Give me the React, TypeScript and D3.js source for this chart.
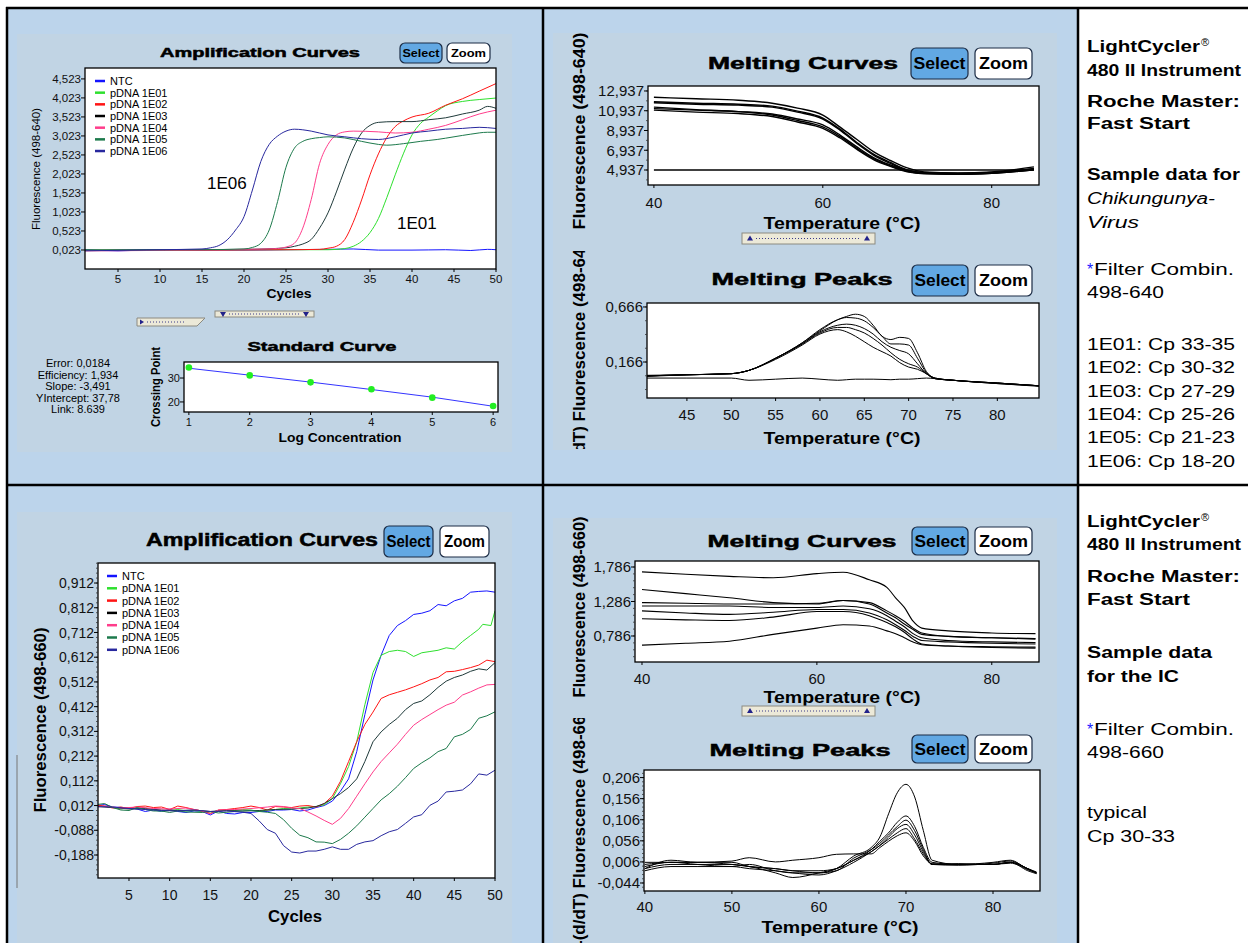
import React from 'react';
import * as d3 from 'd3';

type Pt = [number, number];

const SANS = "'Liberation Sans', Arial, Helvetica, sans-serif";
const CELL_BG = '#BCD4EB';
const PANEL_BG = '#C1D4E4';

// legend / series colours shared by both amplification plots
const AMP_LEGEND = ['NTC', 'pDNA 1E01', 'pDNA 1E02', 'pDNA 1E03', 'pDNA 1E04', 'pDNA 1E05', 'pDNA 1E06'];
const AMP_COLORS = ['#1414ff', '#2ee02e', '#ff1414', '#1f3a3a', '#ff3d8b', '#1d7a4c', '#28289e'];
const CYCLE_TICKS = [5, 10, 15, 20, 25, 30, 35, 40, 45, 50];

// ---------- 498-640 amplification ----------
const AMP640_YTICKS = [0.023, 0.523, 1.023, 1.523, 2.023, 2.523, 3.023, 3.523, 4.023, 4.523];
const AMP640_NTC: Pt[] = [[1, 0.03], [5, 0.0], [10, 0.03], [15, 0.02], [20, 0.02], [25, 0.03], [30, 0.04], [33, 0.05], [36, 0.02], [40, 0.02], [44, 0.03], [47, 0.01], [49, 0.04], [50, 0.03]];
const AMP640_E01: Pt[] = [[1, 0.02], [25, 0.03], [30, 0.03], [32, 0.06], [33, 0.12], [34, 0.25], [35, 0.48], [36, 0.85], [37, 1.4], [38, 2.0], [39, 2.57], [40, 3.05], [41, 3.35], [42, 3.52], [43, 3.68], [44, 3.82], [46, 3.93], [48, 3.98], [50, 4.02]];
const AMP640_E02: Pt[] = [[1, 0.01], [25, 0.03], [29, 0.04], [30, 0.07], [31, 0.12], [32, 0.3], [33, 0.75], [34, 1.34], [35, 2.0], [36, 2.55], [37, 2.98], [38, 3.27], [39, 3.42], [40, 3.52], [42, 3.62], [44, 3.83], [46, 4.0], [48, 4.2], [50, 4.4]];
const AMP640_E03: Pt[] = [[1, 0.02], [20, 0.04], [25, 0.08], [26, 0.12], [27, 0.18], [28, 0.3], [29, 0.6], [30, 1.0], [31, 1.55], [32, 2.15], [33, 2.7], [34, 3.1], [35, 3.3], [36, 3.38], [38, 3.4], [40, 3.4], [42, 3.45], [44, 3.5], [46, 3.6], [48, 3.7], [49, 3.8], [50, 3.75]];
const AMP640_E04: Pt[] = [[1, 0.0], [20, 0.04], [24, 0.06], [25, 0.1], [26, 0.2], [27, 0.6], [28, 1.35], [29, 2.3], [30, 2.8], [31, 3.05], [32, 3.13], [33, 3.15], [36, 3.13], [38, 3.1], [40, 3.12], [42, 3.2], [44, 3.3], [46, 3.45], [48, 3.6], [50, 3.7]];
const AMP640_E05: Pt[] = [[1, 0.02], [15, 0.03], [20, 0.05], [21, 0.09], [22, 0.2], [23, 0.55], [24, 1.3], [25, 2.2], [26, 2.7], [27, 2.88], [28, 2.95], [29, 2.98], [30, 3.0], [32, 2.97], [34, 2.88], [36, 2.8], [37, 2.78], [39, 2.82], [41, 2.88], [43, 2.93], [45, 3.0], [47, 3.07], [49, 3.12], [50, 3.12]];
const AMP640_E06: Pt[] = [[1, 0.0], [10, 0.03], [15, 0.05], [16, 0.08], [17, 0.14], [18, 0.29], [19, 0.55], [20, 0.9], [21, 1.6], [22, 2.35], [23, 2.8], [24, 3.02], [25, 3.15], [26, 3.2], [28, 3.15], [30, 3.05], [32, 3.0], [34, 2.95], [36, 2.93], [38, 3.0], [40, 3.1], [42, 3.15], [44, 3.2], [46, 3.22], [48, 3.25], [50, 3.22]];

// ---------- standard curve ----------
const STD_LOGCONC = [1, 2, 3, 4, 5, 6];
const STD_CP = [34.4, 31.1, 28.2, 25.3, 21.8, 18.3];
const STD_FIT = [34.1, 31.2, 28.3, 25.2, 22.0, 18.2];
const STD_STATS = ['Error: 0,0184', 'Efficiency: 1,934', 'Slope: -3,491', 'YIntercept: 37,78', 'Link: 8.639'];

// ---------- 498-640 melting curves ----------
const MC640_TEMPS = [40, 45, 50, 54, 57, 60, 62, 64, 66, 68, 70, 72, 76, 80, 85];
const MC640_YTICKS = [4.937, 6.937, 8.937, 10.937, 12.937];
const MC640_A = [12.3, 12.15, 12.0, 11.7, 11.2, 10.5, 9.3, 8.05, 6.8, 5.9, 5.15, 4.75, 4.65, 4.75, 5.25];
const MC640_B = [11.85, 11.7, 11.6, 11.4, 10.9, 10.2, 9.1, 7.75, 6.55, 5.7, 4.95, 4.65, 4.6, 4.7, 5.1];
const MC640_C = [11.3, 11.05, 10.85, 10.6, 10.1, 9.5, 8.5, 7.3, 6.2, 5.45, 4.85, 4.6, 4.55, 4.65, 5.0];
const MC640_D = [11.0, 10.8, 10.65, 10.35, 9.8, 9.15, 8.2, 7.05, 6.0, 5.3, 4.75, 4.55, 4.5, 4.6, 4.95];
const MC640_E = [11.75, 11.6, 11.5, 11.3, 10.8, 10.1, 9.0, 7.65, 6.45, 5.6, 4.9, 4.7, 4.6, 4.7, 5.05];
const MC640_F = [11.15, 11.0, 10.85, 10.5, 9.95, 9.3, 8.35, 7.15, 6.1, 5.35, 4.8, 4.6, 4.5, 4.6, 4.95];
const MC640_NTC = [4.937, 4.937, 4.937, 4.937, 4.937, 4.937, 4.937, 4.937, 4.937, 4.937, 4.937, 4.937, 4.937, 4.937, 4.937];

// ---------- 498-640 melting peaks ----------
const MP640_TEMPS = [40.5, 45, 50, 52, 55, 58, 60, 62, 63, 64, 65, 66, 67, 68, 69, 70, 71, 72, 73, 75, 80, 84.7];
const MP640_YTICKS = [0.166, 0.666];
const MP640_P1 = [0.04, 0.05, 0.06, 0.09, 0.2, 0.34, 0.45, 0.55, 0.58, 0.6, 0.58, 0.5, 0.4, 0.37, 0.39, 0.38, 0.25, 0.08, 0.02, 0.0, -0.025, -0.05];
const MP640_P2 = [0.04, 0.05, 0.06, 0.09, 0.2, 0.34, 0.46, 0.55, 0.57, 0.565, 0.54, 0.48, 0.4, 0.33, 0.33, 0.32, 0.2, 0.07, 0.02, 0.0, -0.025, -0.05];
const MP640_P3 = [0.045, 0.05, 0.06, 0.09, 0.2, 0.33, 0.44, 0.5, 0.51, 0.5, 0.47, 0.42, 0.35, 0.3, 0.27, 0.24, 0.15, 0.06, 0.015, 0.0, -0.03, -0.05];
const MP640_P4 = [0.04, 0.05, 0.06, 0.09, 0.2, 0.33, 0.43, 0.48, 0.48, 0.46, 0.43, 0.38, 0.32, 0.25, 0.19, 0.15, 0.12, 0.06, 0.015, 0.0, -0.025, -0.05];
const MP640_P5 = [0.035, 0.05, 0.06, 0.09, 0.19, 0.32, 0.42, 0.46, 0.44, 0.4, 0.35, 0.3, 0.26, 0.22, 0.16, 0.12, 0.1, 0.06, 0.015, 0.0, -0.03, -0.055];
const MP640_NTC = [0.02, 0.02, 0.02, 0.0, 0.01, 0.02, 0.01, 0.0, 0.005, 0.01, 0.01, 0.01, 0.008, 0.005, 0.01, 0.01, 0.015, 0.02, 0.015, 0.0, -0.025, -0.05];

// ---------- 498-660 amplification ----------
const AMP660_YTICKS = [-0.188, -0.088, 0.012, 0.112, 0.212, 0.312, 0.412, 0.512, 0.612, 0.712, 0.812, 0.912];
const AMP660_NTC: Pt[] = [[1, 0.012], [2, 0.016], [3, 0.006], [5, 0.003], [6, -0.002], [7, -0.012], [8, -0.006], [9, -0.012], [10, -0.003], [11, -0.012], [12, -0.016], [13, -0.01], [14, -0.012], [15, -0.026], [16, -0.01], [17, -0.02], [18, -0.022], [19, -0.016], [20, -0.016], [21, -0.012], [22, -0.012], [23, -0.006], [24, -0.006], [25, -0.004], [26, -0.01], [27, -0.006], [28, 0.004], [29, 0.012], [30, 0.03], [31, 0.07], [32, 0.12], [33, 0.23], [34, 0.38], [35, 0.52], [36, 0.62], [37, 0.7], [38, 0.74], [39, 0.76], [40, 0.785], [41, 0.79], [42, 0.8], [43, 0.825], [44, 0.82], [45, 0.84], [46, 0.85], [47, 0.875], [48, 0.878], [49, 0.88], [50, 0.875]];
const AMP660_E01: Pt[] = [[1, 0.01], [2, 0.008], [3, 0.005], [4, -0.002], [5, 0.004], [6, 0.0], [7, 0.002], [8, -0.006], [9, -0.01], [10, -0.008], [11, -0.004], [12, -0.01], [13, -0.008], [14, -0.012], [15, -0.014], [16, -0.01], [17, -0.006], [18, -0.008], [19, -0.004], [20, -0.006], [21, -0.012], [22, -0.006], [23, -0.004], [24, 0.0], [25, -0.002], [26, 0.002], [27, 0.006], [28, 0.008], [29, 0.015], [30, 0.04], [31, 0.1], [32, 0.17], [33, 0.27], [34, 0.42], [35, 0.55], [36, 0.62], [37, 0.635], [38, 0.64], [39, 0.635], [40, 0.615], [41, 0.63], [42, 0.635], [43, 0.64], [44, 0.65], [45, 0.645], [46, 0.675], [47, 0.7], [48, 0.725], [48.5, 0.745], [49.5, 0.74], [50, 0.8]];
const AMP660_E02: Pt[] = [[1, 0.014], [2, 0.01], [3, 0.002], [4, 0.006], [5, 0.0], [6, 0.008], [7, 0.01], [8, 0.004], [9, 0.006], [10, -0.004], [11, 0.01], [12, 0.004], [13, -0.004], [14, -0.01], [15, -0.02], [16, -0.006], [17, -0.004], [18, 0.0], [19, 0.004], [20, 0.01], [21, 0.004], [22, -0.006], [23, 0.008], [24, 0.006], [25, 0.004], [26, 0.01], [27, 0.012], [28, 0.006], [29, 0.02], [30, 0.05], [31, 0.11], [32, 0.19], [33, 0.27], [34, 0.34], [35, 0.39], [36, 0.445], [37, 0.46], [38, 0.47], [39, 0.48], [40, 0.492], [41, 0.505], [42, 0.52], [43, 0.53], [44, 0.553], [45, 0.555], [46, 0.562], [47, 0.57], [48, 0.58], [49, 0.6], [50, 0.594]];
const AMP660_E03: Pt[] = [[1, 0.008], [3, 0.004], [5, -0.002], [7, 0.0], [9, -0.006], [11, -0.008], [13, -0.006], [15, -0.012], [17, -0.008], [19, -0.01], [21, -0.008], [23, -0.004], [25, -0.002], [27, 0.002], [28, 0.008], [29, 0.02], [30, 0.04], [31, 0.06], [32, 0.085], [33, 0.12], [34, 0.19], [35, 0.27], [36, 0.31], [37, 0.34], [38, 0.365], [39, 0.4], [40, 0.425], [41, 0.435], [42, 0.46], [43, 0.49], [44, 0.515], [45, 0.53], [46, 0.54], [47, 0.555], [48, 0.565], [49, 0.56], [50, 0.59]];
const AMP660_E04: Pt[] = [[1, 0.006], [2, 0.01], [4, 0.002], [6, 0.006], [8, 0.0], [10, -0.002], [12, 0.002], [14, -0.01], [15, -0.022], [16, -0.006], [18, -0.004], [20, 0.0], [22, 0.006], [23, 0.01], [24, 0.008], [25, 0.002], [26, 0.0], [27, -0.014], [28, -0.03], [29, -0.048], [30, -0.064], [31, -0.04], [32, 0.0], [33, 0.05], [34, 0.1], [35, 0.148], [36, 0.19], [37, 0.225], [38, 0.26], [39, 0.3], [40, 0.337], [41, 0.36], [42, 0.38], [43, 0.4], [44, 0.418], [45, 0.43], [46, 0.459], [47, 0.472], [48, 0.487], [49, 0.5], [50, 0.502]];
const AMP660_E05: Pt[] = [[1, 0.016], [2, 0.02], [3, 0.004], [4, -0.006], [5, -0.008], [6, 0.004], [7, -0.004], [8, -0.01], [9, -0.01], [10, -0.016], [11, -0.01], [12, -0.014], [14, -0.016], [15, -0.012], [16, -0.018], [18, -0.012], [20, -0.008], [21, -0.012], [22, -0.015], [23, -0.02], [24, -0.045], [25, -0.08], [26, -0.108], [27, -0.118], [28, -0.135], [29, -0.136], [30, -0.142], [31, -0.125], [32, -0.1], [33, -0.07], [34, -0.035], [35, 0.0], [36, 0.035], [37, 0.06], [38, 0.09], [39, 0.125], [40, 0.162], [41, 0.185], [42, 0.205], [43, 0.23], [44, 0.243], [45, 0.29], [46, 0.3], [47, 0.32], [48, 0.365], [49, 0.375], [50, 0.391]];
const AMP660_E06: Pt[] = [[1, 0.008], [3, 0.006], [5, 0.0], [7, -0.004], [9, -0.008], [11, -0.01], [13, -0.006], [15, -0.012], [17, -0.01], [19, -0.015], [20, -0.02], [21, -0.05], [22, -0.085], [23, -0.1], [24, -0.15], [25, -0.176], [26, -0.18], [27, -0.172], [28, -0.172], [29, -0.165], [30, -0.155], [31, -0.165], [32, -0.165], [33, -0.145], [34, -0.135], [35, -0.13], [36, -0.11], [37, -0.094], [38, -0.085], [39, -0.06], [40, -0.034], [41, -0.025], [42, 0.013], [43, 0.03], [44, 0.067], [45, 0.07], [46, 0.075], [47, 0.1], [48, 0.14], [49, 0.135], [50, 0.155]];

// ---------- 498-660 melting curves ----------
const MC660_TEMPS = [40, 45, 50, 55, 60, 63, 66, 68, 69, 70, 71, 72, 75, 80, 85];
const MC660_YTICKS = [0.786, 1.286, 1.786];
const MC660_C1 = [1.716, 1.68, 1.65, 1.63, 1.69, 1.71, 1.6, 1.49, 1.34, 1.2, 1.0, 0.9, 0.86, 0.83, 0.82];
const MC660_C2 = [1.46, 1.4, 1.34, 1.27, 1.25, 1.3, 1.25, 1.12, 1.05, 0.96, 0.88, 0.81, 0.78, 0.76, 0.75];
const MC660_C3 = [1.27, 1.26, 1.25, 1.25, 1.26, 1.3, 1.27, 1.15, 1.08, 1.0, 0.9, 0.83, 0.78, 0.76, 0.74];
const MC660_C4 = [1.15, 1.12, 1.1, 1.13, 1.17, 1.17, 1.12, 1.02, 0.95, 0.87, 0.78, 0.72, 0.7, 0.68, 0.67];
const MC660_C5 = [1.035, 1.02, 1.01, 1.06, 1.14, 1.14, 1.08, 0.98, 0.92, 0.84, 0.74, 0.67, 0.64, 0.62, 0.61];
const MC660_C6 = [0.653, 0.68, 0.71, 0.81, 0.9, 0.95, 0.93, 0.86, 0.82, 0.76, 0.7, 0.66, 0.64, 0.63, 0.625];
const MC660_C7 = [1.22, 1.22, 1.22, 1.2, 1.2, 1.22, 1.18, 1.08, 1.0, 0.92, 0.82, 0.76, 0.72, 0.7, 0.69];

// ---------- 498-660 melting peaks ----------
const MP660_TEMPS = [40, 43, 46, 50, 52, 55, 57, 60, 62, 64, 66, 67, 68, 69, 70, 71, 72, 73, 76, 80, 82, 84, 85];
const MP660_YTICKS = [-0.044, 0.006, 0.056, 0.106, 0.156, 0.206];
const MP660_Q1 = [0.0, 0.005, 0.005, 0.0, -0.005, -0.01, -0.015, -0.02, -0.01, 0.02, 0.04, 0.065, 0.12, 0.17, 0.19, 0.16, 0.08, 0.01, 0.0, 0.0, 0.005, -0.01, -0.02];
const MP660_Q2 = [-0.01, 0.0, 0.0, 0.0, -0.005, -0.02, -0.031, -0.02, -0.01, 0.01, 0.035, 0.055, 0.075, 0.1, 0.115, 0.09, 0.04, 0.005, 0.0, 0.005, 0.01, -0.012, -0.02];
const MP660_Q3 = [-0.005, 0.005, 0.0, -0.005, 0.0, -0.015, -0.02, -0.02, -0.015, 0.015, 0.035, 0.05, 0.07, 0.09, 0.105, 0.08, 0.035, 0.0, 0.002, 0.0, 0.005, -0.015, -0.022];
const MP660_Q4 = [-0.01, 0.01, 0.005, 0.005, -0.005, -0.01, -0.015, -0.015, -0.01, 0.01, 0.03, 0.045, 0.065, 0.085, 0.095, 0.07, 0.03, 0.0, -0.002, 0.003, 0.008, -0.01, -0.018];
const MP660_Q5 = [-0.015, -0.005, -0.005, -0.005, -0.01, -0.015, -0.02, -0.025, -0.015, 0.005, 0.03, 0.045, 0.06, 0.075, 0.085, 0.06, 0.025, 0.0, 0.0, 0.0, 0.003, -0.012, -0.02];
const MP660_Q6 = [0.005, 0.005, 0.005, 0.008, 0.016, 0.006, 0.01, 0.016, 0.024, 0.025, 0.025, 0.04, 0.055, 0.068, 0.075, 0.055, 0.02, 0.002, 0.0, 0.0, 0.005, -0.01, -0.02];

// ---------- side notes ----------
type Note = { t: string; y: number; w: number; b?: boolean; i?: boolean; sup?: boolean; star?: boolean };
const NOTES_TOP: Note[] = [
  { t: 'LightCycler', y: 52, w: 113, b: true, sup: true },
  { t: '480 II Instrument', y: 76, w: 154, b: true },
  { t: 'Roche Master:', y: 107, w: 153, b: true },
  { t: 'Fast Start', y: 129, w: 103, b: true },
  { t: 'Sample data for', y: 180, w: 153, b: true },
  { t: 'Chikungunya-', y: 204, w: 128, i: true },
  { t: 'Virus', y: 228, w: 52, i: true },
  { t: 'Filter Combin.', y: 275, w: 147, star: true },
  { t: '498-640', y: 298, w: 77 },
  { t: '1E01: Cp 33-35', y: 350, w: 148 },
  { t: '1E02: Cp 30-32', y: 373, w: 148 },
  { t: '1E03: Cp 27-29', y: 397, w: 148 },
  { t: '1E04: Cp 25-26', y: 420, w: 148 },
  { t: '1E05: Cp 21-23', y: 443, w: 148 },
  { t: '1E06: Cp 18-20', y: 467, w: 148 },
];
const NOTES_BOTTOM: Note[] = [
  { t: 'LightCycler', y: 527, w: 113, b: true, sup: true },
  { t: '480 II Instrument', y: 550, w: 154, b: true },
  { t: 'Roche Master:', y: 582, w: 153, b: true },
  { t: 'Fast Start', y: 605, w: 103, b: true },
  { t: 'Sample data', y: 658, w: 125, b: true },
  { t: 'for the IC', y: 682, w: 92, b: true },
  { t: 'Filter Combin.', y: 735, w: 147, star: true },
  { t: '498-660', y: 758, w: 77 },
  { t: 'typical', y: 818, w: 60 },
  { t: 'Cp 30-33', y: 842, w: 88 },
];

const fmtDec = (v: number) => d3.format('.3f')(v).replace('.', ',').replace('\u2212', '-');
const fmtInt = (v: number) => String(v);
const zipT = (t: number[], v: number[]): Pt[] => t.map((x, i) => [x, v[i]]);

type Series = { pts: Pt[]; color: string; width?: number };

function Plot(p: {
  id: string;
  box: [number, number, number, number];
  xDom: [number, number];
  yDom: [number, number];
  xTicks: number[];
  yTicks: number[];
  yFmt: (v: number) => string;
  yMinor?: number;
  font: number;
  xLabelY: number;
  series: Series[];
  curve?: d3.CurveFactory;
  extra?: (x: d3.ScaleLinear<number, number>, y: d3.ScaleLinear<number, number>) => React.ReactNode;
}) {
  const [x0, y0, x1, y1] = p.box;
  const x = d3.scaleLinear().domain(p.xDom).range([x0, x1]);
  const y = d3.scaleLinear().domain(p.yDom).range([y1, y0]);
  const line = d3
    .line<Pt>()
    .x((d) => x(d[0]))
    .y((d) => y(d[1]))
    .curve(p.curve || d3.curveMonotoneX);
  const minors: number[] = [];
  if (p.yMinor) {
    const base = p.yTicks[0];
    for (let k = 0; base - k * p.yMinor >= p.yDom[0]; k++) minors.push(base - k * p.yMinor);
    for (let k = 1; base + k * p.yMinor <= p.yDom[1]; k++) minors.push(base + k * p.yMinor);
  }
  return (
    <g>
      <rect x={x0} y={y0} width={x1 - x0} height={y1 - y0} fill="#fff" />
      <clipPath id={p.id}>
        <rect x={x0} y={y0} width={x1 - x0} height={y1 - y0} />
      </clipPath>
      <g clipPath={`url(#${p.id})`}>
        {p.series.map((s, i) => (
          <path key={i} d={line(s.pts) || ''} fill="none" stroke={s.color} strokeWidth={s.width ?? 1} strokeLinejoin="round" />
        ))}
        {p.extra && p.extra(x, y)}
      </g>
      <rect x={x0} y={y0} width={x1 - x0} height={y1 - y0} fill="none" stroke="#000" strokeWidth={1.3} />
      {minors.map((v, i) => (
        <line key={'m' + i} x1={x0 - 2} x2={x0} y1={y(v)} y2={y(v)} stroke="#333" strokeWidth={0.8} />
      ))}
      {p.yTicks.map((v) => (
        <g key={'y' + v}>
          <line x1={x0 - 4} x2={x0} y1={y(v)} y2={y(v)} stroke="#000" />
          <text x={x0 - 4} y={y(v)} dy="0.36em" textAnchor="end" fontSize={p.font} fill="#111">
            {p.yFmt(v)}
          </text>
        </g>
      ))}
      {p.xTicks.map((v) => (
        <g key={'x' + v}>
          <line x1={x(v)} x2={x(v)} y1={y1} y2={y1 + 3} stroke="#000" />
          <text x={x(v)} y={p.xLabelY} textAnchor="middle" fontSize={p.font} fill="#111">
            {v}
          </text>
        </g>
      ))}
    </g>
  );
}

function Title({ x, y, text, fs, w }: { x: number; y: number; text: string; fs: number; w: number }) {
  return (
    <text
      x={x}
      y={y}
      textAnchor="middle"
      fontSize={fs}
      fontWeight={700}
      textLength={w}
      lengthAdjust="spacingAndGlyphs"
      fill="#000"
      stroke="#000"
      strokeWidth={0.5}
    >
      {text}
    </text>
  );
}

function Label(props: { x: number; y: number; text: string; fs: number; w?: number; rot?: boolean; bold?: boolean; anchor?: string }) {
  const { x, y, text, fs, w, rot, bold, anchor } = props;
  return (
    <text
      transform={`translate(${x},${y})${rot ? ' rotate(-90)' : ''}`}
      textAnchor={anchor || 'middle'}
      fontSize={fs}
      fontWeight={bold ? 700 : 400}
      textLength={w}
      lengthAdjust={w ? 'spacingAndGlyphs' : undefined}
      fill="#000"
    >
      {text}
    </text>
  );
}

function Buttons({ x, y, h, ws, fs }: { x: number; y: number; h: number; ws: [number, number, number]; fs: number }) {
  const [w1, gap, w2] = ws;
  return (
    <g fontWeight={700} fontSize={fs}>
      <rect x={x} y={y} width={w1} height={h} rx={5} fill="#62A8E3" stroke="#1b2b44" strokeWidth={1.2} />
      <text x={x + w1 / 2} y={y + h / 2} dy="0.36em" textAnchor="middle" textLength={w1 - 5} lengthAdjust="spacingAndGlyphs">
        Select
      </text>
      <rect x={x + w1 + gap} y={y} width={w2} height={h} rx={5} fill="#fff" stroke="#1b2b44" strokeWidth={1.2} />
      <text x={x + w1 + gap + w2 / 2} y={y + h / 2} dy="0.36em" textAnchor="middle" textLength={w2 - 8} lengthAdjust="spacingAndGlyphs">
        Zoom
      </text>
    </g>
  );
}

function Slider({ x, y, w, h, up }: { x: number; y: number; w: number; h: number; up: boolean }) {
  const cy = y + h / 2;
  const tri = (cx: number) =>
    up ? `${cx - 3},${cy + 2} ${cx + 3},${cy + 2} ${cx},${cy - 3}` : `${cx - 3},${cy - 2} ${cx + 3},${cy - 2} ${cx},${cy + 3}`;
  return (
    <g>
      <rect x={x} y={y} width={w} height={h} fill="#ECE9D8" stroke="#8c8a80" />
      <line x1={x + 14} x2={x + w - 14} y1={cy} y2={cy} stroke="#3a3a8a" strokeDasharray="1 2" />
      <polygon points={tri(x + 8)} fill="#22228a" />
      <polygon points={tri(x + w - 8)} fill="#22228a" />
    </g>
  );
}

function Notes({ items }: { items: Note[] }) {
  return (
    <g fontSize={16} fill="#000">
      {items.map((n) => (
        <g key={n.t + n.y}>
          {n.star && (
            <text x={1087} y={n.y} fill="#1a1aff" fontSize={16}>
              *
            </text>
          )}
          <text
            x={n.star ? 1094 : 1087}
            y={n.y}
            fontWeight={n.b ? 700 : 400}
            fontStyle={n.i ? 'italic' : 'normal'}
            textLength={n.star ? n.w - 7 : n.w}
            lengthAdjust="spacingAndGlyphs"
          >
            {n.t}
          </text>
          {n.sup && (
            <text x={1201} y={n.y - 6} fontSize={11}>
              ®
            </text>
          )}
        </g>
      ))}
    </g>
  );
}

function Legend({ x, y, dy, fs }: { x: number; y: number; dy: number; fs: number }) {
  return (
    <g fontSize={fs}>
      {AMP_LEGEND.map((name, i) => (
        <g key={name}>
          <line x1={x} x2={x + 10} y1={y + i * dy} y2={y + i * dy} stroke={i === 3 ? '#000' : AMP_COLORS[i]} strokeWidth={2.5} />
          <text x={x + 15} y={y + i * dy} dy="0.36em" fill="#000">
            {name}
          </text>
        </g>
      ))}
    </g>
  );
}

export default function App() {
  const amp640 = [AMP640_NTC, AMP640_E01, AMP640_E02, AMP640_E03, AMP640_E04, AMP640_E05, AMP640_E06].map((pts, i) => ({
    pts,
    color: AMP_COLORS[i],
    width: 1,
  }));
  const amp660 = [AMP660_NTC, AMP660_E01, AMP660_E02, AMP660_E03, AMP660_E04, AMP660_E05, AMP660_E06].map((pts, i) => ({
    pts,
    color: AMP_COLORS[i],
    width: 1,
  }));
  const mc640 = [MC640_A, MC640_B, MC640_C, MC640_D, MC640_E, MC640_F, MC640_NTC].map((v) => ({
    pts: zipT(MC640_TEMPS, v),
    color: '#000',
    width: 1.4,
  }));
  const mp640 = [MP640_P1, MP640_P2, MP640_P3, MP640_P4, MP640_P5, MP640_NTC].map((v) => ({
    pts: zipT(MP640_TEMPS, v),
    color: '#000',
    width: 1,
  }));
  const mc660 = [MC660_C1, MC660_C2, MC660_C3, MC660_C4, MC660_C5, MC660_C6, MC660_C7].map((v) => ({
    pts: zipT(MC660_TEMPS, v),
    color: '#000',
    width: 1.1,
  }));
  const mp660 = [MP660_Q1, MP660_Q2, MP660_Q3, MP660_Q4, MP660_Q5, MP660_Q6].map((v) => ({
    pts: zipT(MP660_TEMPS, v),
    color: '#000',
    width: 1,
  }));

  return (
    <svg width={1248} height={943} style={{ position: 'absolute', left: 0, top: 0, display: 'block' }} fontFamily={SANS}>
      <rect width={1248} height={943} fill="#fff" />
      <rect x={7} y={8} width={1071} height={935} fill={CELL_BG} />
      <rect x={17} y={34} width={495} height={418} fill={PANEL_BG} />
      <rect x={553} y={33} width={504} height={417} fill={PANEL_BG} />
      <rect x={17} y={512} width={495} height={431} fill={PANEL_BG} />
      <rect x={553} y={518} width={504} height={425} fill={PANEL_BG} />

      {/* ---- amplification 498-640 ---- */}
      <Title x={260} y={57} text="Amplification Curves" fs={13} w={200} />
      <Buttons x={400} y={43} h={20} ws={[42, 5, 43]} fs={11} />
      <Plot
        id="amp640"
        box={[85, 68, 496, 269]}
        xDom={[1.07, 50]}
        yDom={[-0.477, 4.81]}
        xTicks={CYCLE_TICKS}
        yTicks={AMP640_YTICKS}
        yFmt={fmtDec}
        font={11.5}
        xLabelY={283}
        series={amp640}
      />
      <Legend x={95} y={81} dy={11.67} fs={11} />
      <Label x={207} y={189} text="1E06" fs={17} anchor="start" />
      <Label x={397} y={229} text="1E01" fs={17} anchor="start" />
      <Label x={40} y={169} text="Fluorescence (498-640)" fs={11.5} w={122} rot />
      <Label x={289} y={298} text="Cycles" fs={12} w={45} bold />

      <polygon points="137,318 205,318 197,326 137,326" fill="#ECE9D8" stroke="#8c8a80" />
      <polygon points="140,319.5 140,324.5 144,322" fill="#22228a" />
      <line x1={147} x2={186} y1={322} y2={322} stroke="#3a3a8a" strokeDasharray="1 2" />
      <Slider x={215} y={311} w={99} h={6} up={false} />

      {/* ---- standard curve ---- */}
      <Title x={322} y={351} text="Standard Curve" fs={13.5} w={149} />
      <Plot
        id="std"
        box={[184, 362, 498, 412]}
        xDom={[0.92, 6.08]}
        yDom={[15.8, 36.7]}
        xTicks={STD_LOGCONC}
        yTicks={[20, 30]}
        yFmt={fmtInt}
        font={11}
        xLabelY={426}
        series={[{ pts: zipT(STD_LOGCONC, STD_FIT), color: '#3434ff', width: 1 }]}
        curve={d3.curveLinear}
        extra={(x, y) =>
          STD_LOGCONC.map((c, i) => <circle key={c} cx={x(c)} cy={y(STD_CP[i])} r={3.3} fill="#22ee22" />)
        }
      />
      <Label x={160} y={387} text="Crossing Point" fs={12} w={80} rot bold />
      <Label x={340} y={442} text="Log Concentration" fs={12.5} w={123} bold />
      <g fontSize={11} textAnchor="middle">
        {STD_STATS.map((s, i) => (
          <text key={s} x={78} y={367 + i * 11.6} fill="#000">
            {s}
          </text>
        ))}
      </g>

      {/* ---- melting curves 498-640 ---- */}
      <Title x={803} y={69} text="Melting Curves" fs={17} w={190} />
      <Buttons x={911} y={48} h={31} ws={[57, 7, 57]} fs={16} />
      <Plot
        id="mc640"
        box={[648, 86, 1039, 185]}
        xDom={[39.3, 85.6]}
        yDom={[3.42, 13.44]}
        xTicks={[40, 60, 80]}
        yTicks={MC640_YTICKS}
        yFmt={fmtDec}
        yMinor={1}
        font={15}
        xLabelY={208}
        series={mc640}
      />
      <Label x={585} y={131} text="Fluorescence (498-640)" fs={17} w={197} rot bold />
      <Label x={842} y={229} text="Temperature (°C)" fs={17} w={157} bold />
      <Slider x={742} y={233} w={133} h={11} up />

      {/* ---- melting peaks 498-640 ---- */}
      <Title x={802} y={285} text="Melting Peaks" fs={17} w={181} />
      <Buttons x={912} y={265} h={31} ws={[56, 7, 57]} fs={16} />
      <Plot
        id="mp640"
        box={[647, 303, 1039, 398]}
        xDom={[40.5, 84.7]}
        yDom={[-0.161, 0.702]}
        xTicks={[45, 50, 55, 60, 65, 70, 75, 80]}
        yTicks={MP640_YTICKS}
        yFmt={fmtDec}
        yMinor={0.125}
        font={15}
        xLabelY={420}
        series={mp640}
      />
      <clipPath id="lab640">
        <rect x={560} y={251} width={40} height={198} />
      </clipPath>
      <g clipPath="url(#lab640)">
        <Label x={585} y={479} text="-(d/dT) Fluorescence (498-640)" fs={17} rot bold anchor="start" />
      </g>
      <Label x={842} y={444} text="Temperature (°C)" fs={17} w={157} bold />

      {/* ---- amplification 498-660 ---- */}
      <Title x={262} y={546} text="Amplification Curves" fs={18} w={232} />
      <Buttons x={384} y={526} h={31} ws={[49, 7, 49]} fs={16} />
      <Plot
        id="amp660"
        box={[98, 563, 495, 878]}
        xDom={[1.19, 50]}
        yDom={[-0.281, 0.993]}
        xTicks={CYCLE_TICKS}
        yTicks={AMP660_YTICKS}
        yFmt={fmtDec}
        yMinor={0.02}
        font={14}
        xLabelY={900}
        series={amp660}
        curve={d3.curveLinear}
      />
      <Legend x={107} y={576} dy={12.3} fs={11} />
      <Label x={46} y={720} text="Fluorescence (498-660)" fs={16} w={185} rot bold />
      <Label x={295} y={922} text="Cycles" fs={16} w={54} bold />
      <line x1={17} x2={17} y1={755} y2={888} stroke="#777" />

      {/* ---- melting curves 498-660 ---- */}
      <Title x={802} y={547} text="Melting Curves" fs={17} w={189} />
      <Buttons x={912} y={527} h={28} ws={[56, 7, 57]} fs={16} />
      <Plot
        id="mc660"
        box={[635, 561, 1039, 662]}
        xDom={[39.2, 85.4]}
        yDom={[0.409, 1.873]}
        xTicks={[40, 60, 80]}
        yTicks={MC660_YTICKS}
        yFmt={fmtDec}
        yMinor={0.1}
        font={15}
        xLabelY={684}
        series={mc660}
      />
      <Label x={585} y={607} text="Fluorescence (498-660)" fs={17} w={181} rot bold />
      <Label x={842} y={703} text="Temperature (°C)" fs={17} w={157} bold />
      <Slider x={742} y={706} w={133} h={10} up />

      {/* ---- melting peaks 498-660 ---- */}
      <Title x={800} y={756} text="Melting Peaks" fs={17} w={181} />
      <Buttons x={912} y={735} h={28} ws={[56, 7, 57]} fs={16} />
      <Plot
        id="mp660"
        box={[644, 770, 1040, 891]}
        xDom={[39.9, 85.4]}
        yDom={[-0.063, 0.224]}
        xTicks={[40, 50, 60, 70, 80]}
        yTicks={MP660_YTICKS}
        yFmt={fmtDec}
        yMinor={0.01}
        font={15}
        xLabelY={912}
        series={mp660}
      />
      <clipPath id="lab660">
        <rect x={560} y={718} width={40} height={225} />
      </clipPath>
      <g clipPath="url(#lab660)">
        <Label x={585} y={946} text="-(d/dT) Fluorescence (498-660)" fs={17} rot bold anchor="start" />
      </g>
      <Label x={840} y={933} text="Temperature (°C)" fs={17} w={157} bold />

      {/* ---- notes column ---- */}
      <Notes items={NOTES_TOP} />
      <Notes items={NOTES_BOTTOM} />

      {/* ---- table rules ---- */}
      <g stroke="#000" strokeWidth={2.5}>
        <line x1={6} x2={1248} y1={8} y2={8} />
        <line x1={7} x2={7} y1={7} y2={943} />
        <line x1={543} x2={543} y1={7} y2={943} />
        <line x1={1078} x2={1078} y1={7} y2={943} />
        <line x1={6} x2={1248} y1={485} y2={485} />
      </g>
    </svg>
  );
}
